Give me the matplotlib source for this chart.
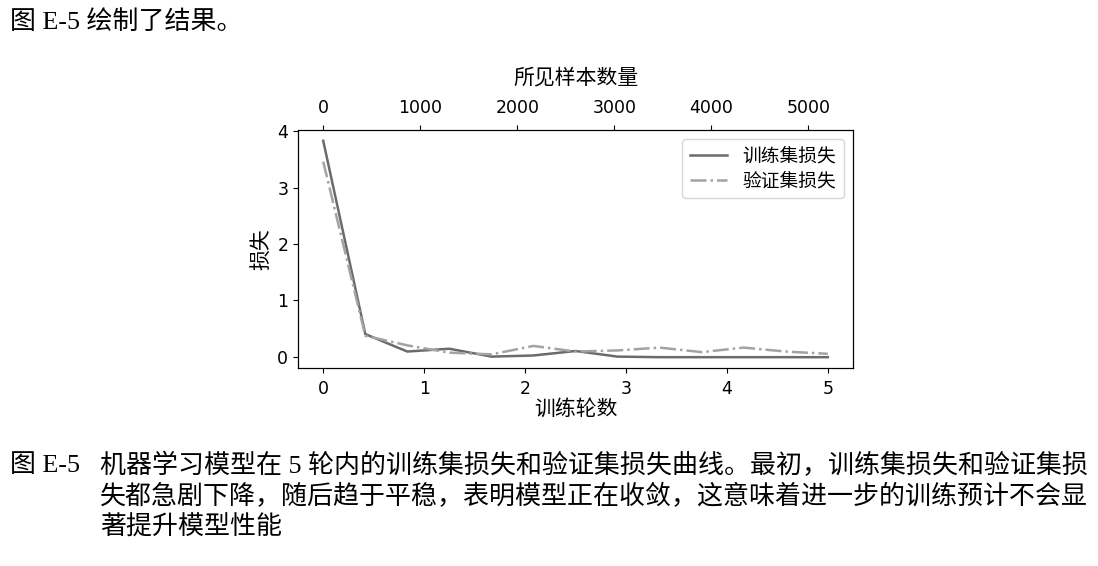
import matplotlib
matplotlib.use("Agg")
import matplotlib.pyplot as plt

plt.rcParams['font.family'] = ['DejaVu Sans', 'Noto Sans CJK SC']

# data
epochs_seen = [0, 0.417, 0.833, 1.25, 1.667, 2.083, 2.5, 2.917, 3.333, 3.75, 4.167, 4.583, 5.0]
examples_seen = [0, 433, 867, 1300, 1733, 2167, 2600, 3033, 3467, 3900, 4333, 4767, 5200]
train_loss = [3.83, 0.40, 0.09, 0.14, 0.00, 0.02, 0.10, 0.00, -0.01, -0.01, -0.01, -0.01, -0.01]
val_loss = [3.46, 0.37, 0.20, 0.07, 0.04, 0.19, 0.09, 0.11, 0.16, 0.08, 0.16, 0.09, 0.05]

top_line = "图 E-5 绘制了结果。"
caption_head = "图 E-5"
caption_lines = [
    "机器学习模型在 5 轮内的训练集损失和验证集损失曲线。最初，训练集损失和验证集损",
    "失都急剧下降，随后趋于平稳，表明模型正在收敛，这意味着进一步的训练预计不会显",
    "著提升模型性能",
]

W, H = 1098, 566
fig = plt.figure(figsize=(W / 100, H / 100), dpi=100)
text_font = ['Liberation Serif', 'Noto Sans CJK SC']

fig.text(10 / W, 1 - 22 / H, top_line, fontsize=18.7, family=text_font, va='center', ha='left')

ax = fig.add_axes([298 / W, 1 - 368 / H, 555 / W, 238 / H])
ax.plot(epochs_seen, train_loss, color='#6b6b6b', lw=1.8, label='训练集损失')
ax.plot(epochs_seen, val_loss, color='#a3a3a3', lw=1.8, linestyle='-.', label='验证集损失')
ax.set_xlabel('训练轮数', fontsize=15, labelpad=1)
ax.set_ylabel('损失', fontsize=15)
ax.tick_params(labelsize=12.5)
ax.tick_params(axis='x', pad=5)
ax.set_yticks([0, 1, 2, 3, 4])
ax.legend(loc='upper right', fontsize=13.5, labelspacing=0.3)

ax2 = ax.twiny()
ax2.plot(examples_seen, train_loss, alpha=0)
ax2.set_xlabel('所见样本数量', fontsize=15, labelpad=11)
ax2.tick_params(labelsize=12.5, pad=6)
ax2.set_xticks([0, 1000, 2000, 3000, 4000, 5000])

fig.text(10 / W, 1 - 466 / H, caption_head, fontsize=18.7, family=text_font, va='center', ha='left')
for i, line in enumerate(caption_lines):
    fig.text(100 / W, 1 - (466 + 30.5 * i) / H, line, fontsize=18.7, family=text_font,
             va='center', ha='left')

fig.savefig('out.png', dpi=100)
